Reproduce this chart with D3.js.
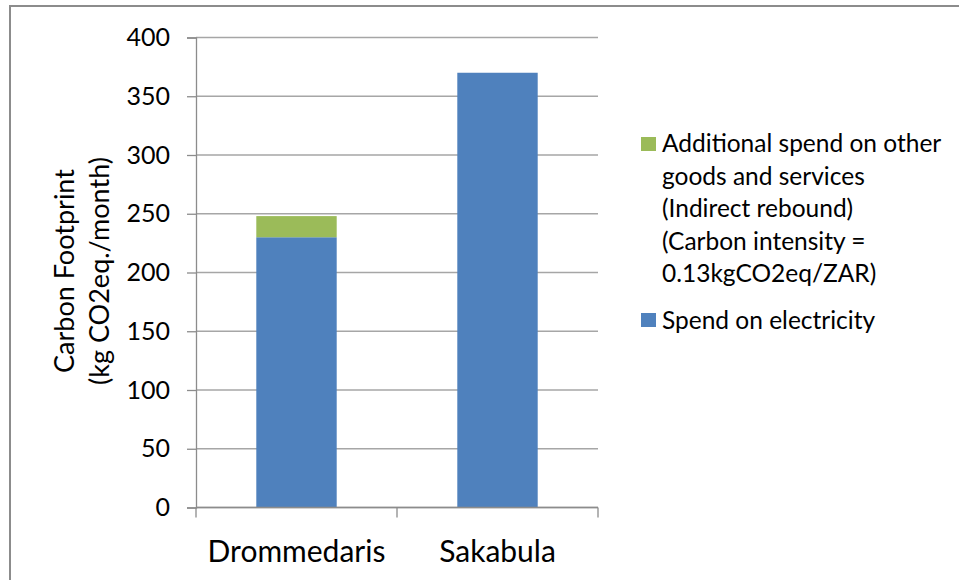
<!DOCTYPE html>
<html>
<head>
<meta charset="utf-8">
<script src="https://cdn.jsdelivr.net/npm/d3@7"></script>
<style>
  body { margin: 0; background: #fff; }
  text { font-family: Lato, "Open Sans", sans-serif; fill: #000; }
</style>
</head>
<body>
<div id="chart"></div>
<script>
// Data
const categories = ["Drommedaris", "Sakabula"];
const electricity = [230, 370];
const indirectRebound = [18, 0];
const yTicks = [0, 50, 100, 150, 200, 250, 300, 350, 400];
const seriesNames = ["Spend on electricity", "Additional spend on other goods and services (Indirect rebound) (Carbon intensity = 0.13kgCO2eq/ZAR)"];
const legendLines = ["Additional spend on other", "goods and services", "(Indirect rebound)", "(Carbon intensity =", "0.13kgCO2eq/ZAR)"];
const colors = ["#4f81bd", "#9bbb59"];

const W = 959, H = 580;
const plot = { left: 196, right: 598, top: 37.5, bottom: 507.5 };

const svg = d3.select("#chart")
  .append("svg")
  .attr("width", W)
  .attr("height", H);

// Outer frame (only top and left edges visible)
svg.append("path")
  .attr("d", `M10,${H} L10,6 L${W},6`)
  .attr("fill", "none")
  .attr("stroke", "#8c8c8c")
  .attr("stroke-width", 2);

// Scales
const x = d3.scaleBand()
  .domain(categories)
  .range([plot.left, plot.right])
  .padding(0);

const y = d3.scaleLinear()
  .domain([0, 400])
  .range([plot.bottom, plot.top]);

// Gridlines
svg.append("g")
  .selectAll("line")
  .data(yTicks)
  .enter()
  .append("line")
  .attr("x1", plot.left)
  .attr("x2", plot.right)
  .attr("y1", d => y(d))
  .attr("y2", d => y(d))
  .attr("stroke", "#a6a6a6")
  .attr("stroke-width", 1.3);

// Stack the two series
const rows = categories.map((c, i) => ({ cat: c, elec: electricity[i], rebound: indirectRebound[i] }));
const stacked = d3.stack().keys(["elec", "rebound"])(rows);

const barW = x.bandwidth() * 0.4;
svg.append("g")
  .selectAll("g")
  .data(stacked)
  .enter()
  .append("g")
  .attr("fill", (d, i) => colors[i])
  .selectAll("rect")
  .data(d => d.filter(p => p[1] > p[0]))
  .enter()
  .append("rect")
  .attr("x", d => x(d.data.cat) + (x.bandwidth() - barW) / 2)
  .attr("y", d => y(d[1]))
  .attr("width", barW)
  .attr("height", d => y(d[0]) - y(d[1]));

// Y axis
const yAxis = svg.append("g")
  .attr("transform", `translate(${plot.left},0)`)
  .call(d3.axisLeft(y).tickValues(yTicks).tickSize(9).tickPadding(17));
yAxis.select(".domain").attr("stroke", "#8c8c8c").attr("stroke-width", 1.3);
yAxis.selectAll(".tick line").attr("stroke", "#8c8c8c").attr("stroke-width", 1.3);
yAxis.selectAll(".tick text")
  .style("font-family", "Lato, sans-serif")
  .style("font-size", "25px")
  .attr("fill", "#000");

// X axis with tick marks at category boundaries
const xAxis = svg.append("g")
  .attr("transform", `translate(0,${plot.bottom})`);
xAxis.append("line")
  .attr("x1", plot.left).attr("x2", plot.right)
  .attr("stroke", "#8c8c8c").attr("stroke-width", 1.3);
xAxis.selectAll(".bound")
  .data(categories.map(c => x(c)).concat([x(categories[categories.length - 1]) + x.bandwidth()]))
  .enter()
  .append("line")
  .attr("x1", d => d).attr("x2", d => d)
  .attr("y1", 0).attr("y2", 10)
  .attr("stroke", "#8c8c8c").attr("stroke-width", 1.3);
xAxis.selectAll(".cat")
  .data(categories)
  .enter()
  .append("text")
  .attr("x", d => x(d) + x.bandwidth() / 2)
  .attr("y", 54)
  .attr("text-anchor", "middle")
  .style("font-size", "30px")
  .text(d => d);

// Y axis title, two lines
const title = svg.append("text")
  .attr("transform", "translate(0,271) rotate(-90)")
  .attr("text-anchor", "middle")
  .style("font-size", "27px");
title.append("tspan").attr("x", 0).attr("y", 74).text("Carbon Footprint");
title.append("tspan").attr("x", 0).attr("y", 109).text("(kg CO2eq./month)");

// Legend
const legend = svg.append("g");
legend.append("rect")
  .attr("x", 641).attr("y", 137).attr("width", 15).attr("height", 14)
  .attr("fill", colors[1]);
legend.append("text")
  .attr("x", 662)
  .style("font-size", "24.5px")
  .selectAll("tspan")
  .data(legendLines)
  .enter()
  .append("tspan")
  .attr("x", 662)
  .attr("y", (d, i) => 152 + i * 32.6)
  .text(d => d);
legend.append("rect")
  .attr("x", 641).attr("y", 313).attr("width", 15).attr("height", 14)
  .attr("fill", colors[0]);
legend.append("text")
  .attr("x", 662).attr("y", 329)
  .style("font-size", "24.5px")
  .text(seriesNames[0]);
</script>
</body>
</html>
